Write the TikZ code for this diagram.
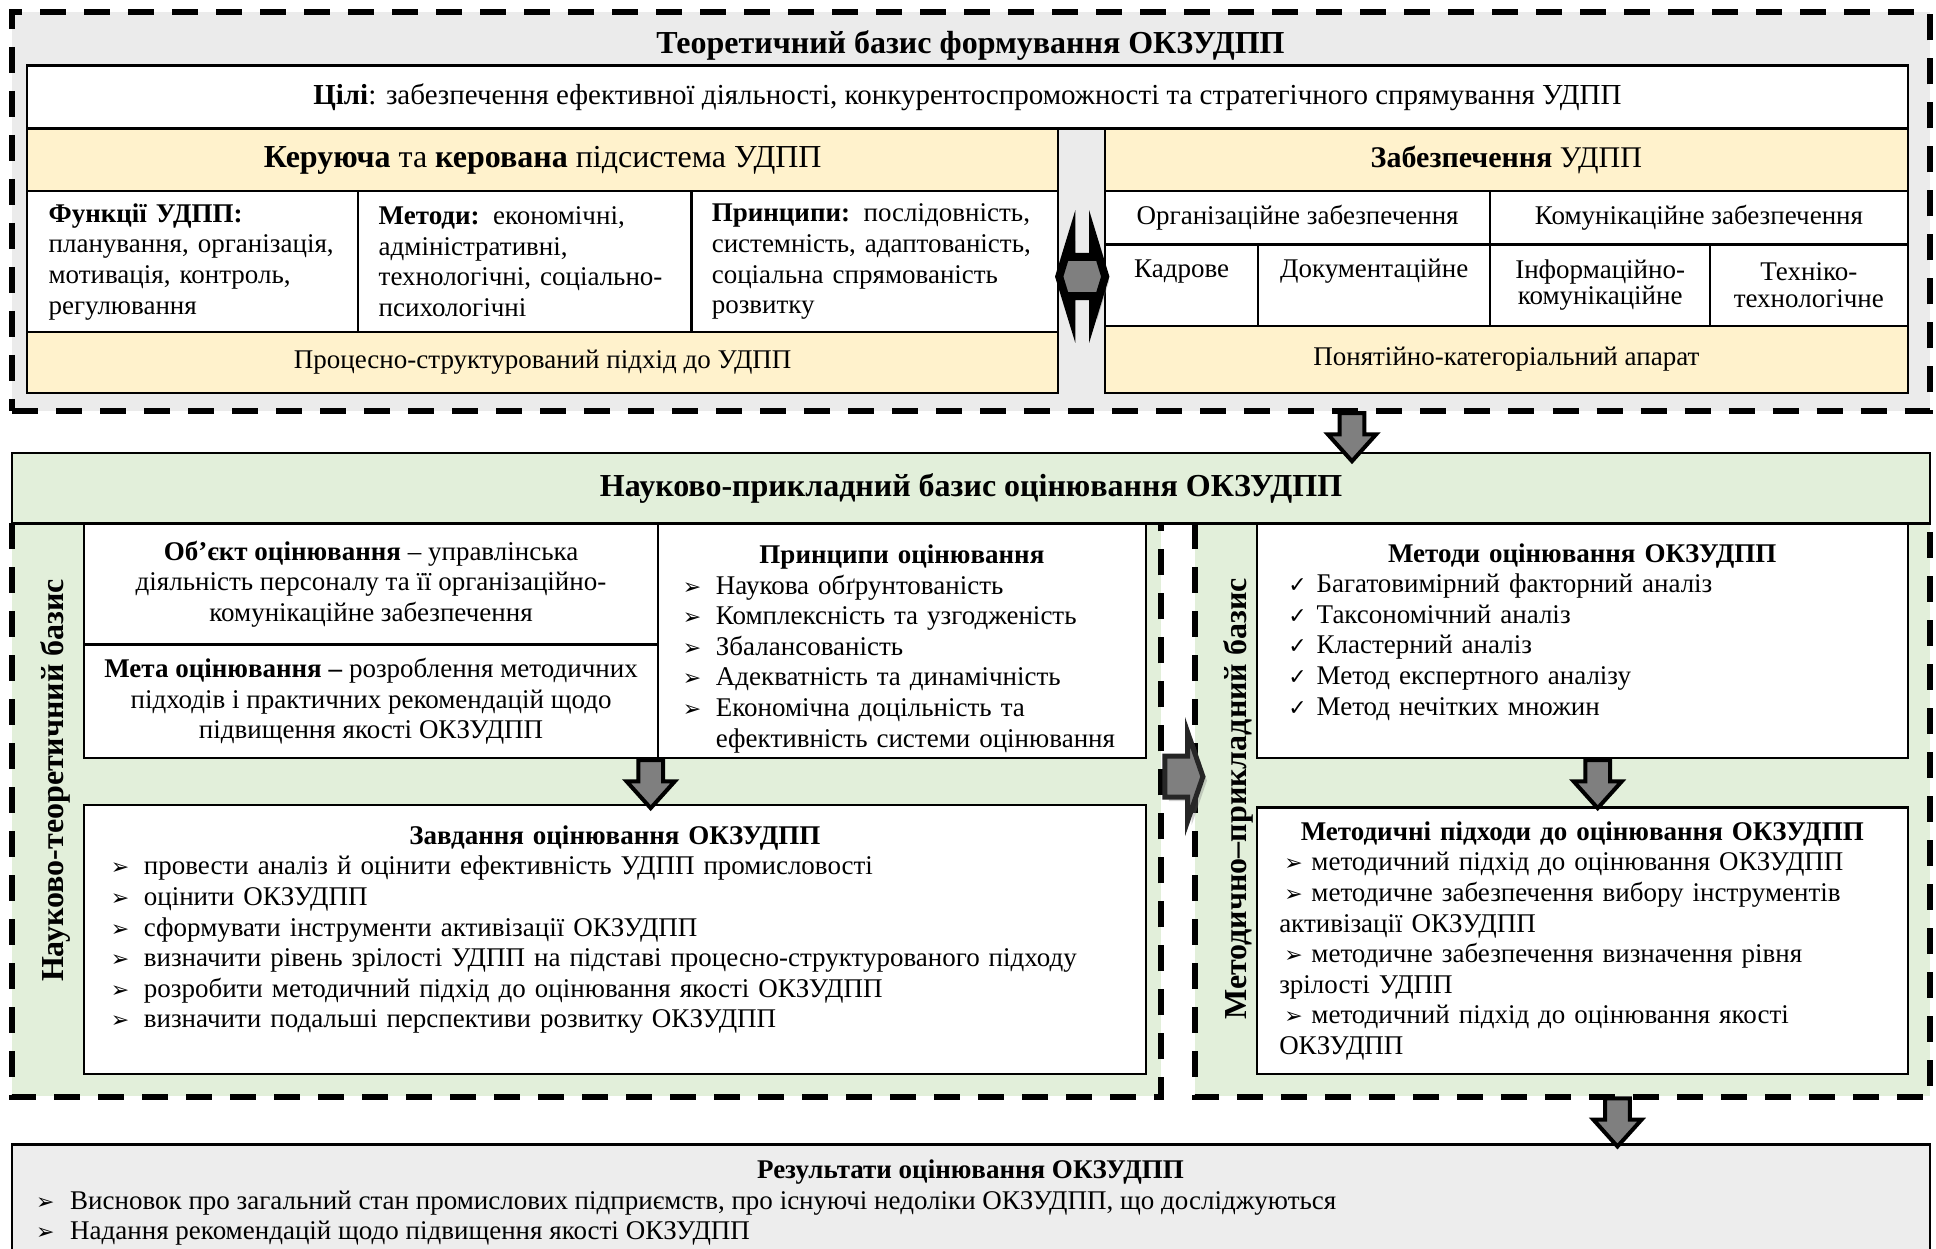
\documentclass[tikz,border=0pt]{standalone}
\usepackage{fontspec}
\setmainfont{Liberation Serif}
\newfontfamily\symfont{DejaVu Sans}
\usetikzlibrary{shapes.arrows}
\usetikzlibrary{shadows}

\definecolor{framegray}{HTML}{EBEBEB}
\definecolor{cellyellow}{HTML}{FFF2CC}
\definecolor{basegreen}{HTML}{E2EFDA}
\definecolor{resultgray}{HTML}{EDEDED}
\definecolor{arrowgray}{HTML}{7F7F7F}

\newcommand{\bodyfont}{\fontsize{13.5}{15.3}\selectfont}
\newcommand{\titlefont}{\fontsize{16}{18}\selectfont\bfseries}
\newcommand{\arrbul}{{\symfont\fontsize{11}{11}\selectfont ➢}}
\newcommand{\chkbul}{{\symfont\fontsize{11}{11}\selectfont ✓}}
\newcommand{\hitem}[1]{\par\hangindent=16.5pt\hangafter=1\noindent\makebox[16.5pt][l]{\arrbul}#1}
\newcommand{\litem}[1]{\par\noindent\hspace*{2.5pt}\makebox[13.6pt][l]{\arrbul}#1}
\newcommand{\citem}[1]{\par\noindent\makebox[14.2pt][l]{\chkbul}#1}
\newcommand{\bottomgap}[1]{\par\kern#1\hrule height0pt}

\begin{document}
\begin{tikzpicture}[x=0.6173pt, y=-0.6173pt,
    span/.style args={#1/#2/#3/#4}{at={({(#1+#3)/2},{(#2+#4)/2})},
        minimum width={(#3-#1)*0.6173pt}, minimum height={(#4-#2)*0.6173pt}},
    cell/.style={draw, line width=1.1pt, inner sep=0pt, fill=white, font=\bodyfont},
    ycell/.style={cell, fill=cellyellow},
    dashline/.style={line width=3pt, dash pattern=on 13pt off 9pt},
    vlabel/.style={rotate=90, font=\fontsize{16}{18}\selectfont\bfseries},
    downarrow/.style={single arrow, draw, line width=2pt, fill=arrowgray,
        shape border rotate=270, single arrow tip angle=84,
        single arrow head extend=5.85pt, inner sep=5.2pt, minimum height=24pt},
    sidearrow/.style={single arrow, draw=black!85, line width=2.5pt, fill=arrowgray,
        single arrow tip angle=142, single arrow head extend=12pt,
        inner xsep=0.5pt, inner ysep=9pt, minimum height=19pt,
        drop shadow={opacity=0.35, shadow xshift=2pt, shadow yshift=-2pt}},
    linkarrow/.style={double arrow, draw, line width=4pt, fill=arrowgray,
        double arrow tip angle=146, double arrow head extend=10pt,
        inner xsep=0.5pt, inner ysep=7.8pt, minimum height=23pt,
        drop shadow={opacity=0.35, shadow xshift=2pt, shadow yshift=-2pt}}]
    \useasboundingbox[fill=white] (0,0) rectangle (1568,1011.3);

    \node[draw, dashline, fill=framegray, inner sep=0pt, span=10/10/1563/333] (theory) {};
    \node[font=\titlefont] (theorytitle) at (786,37) {Теоретичний базис формування ОКЗУДПП};
    \node[cell, span=22/53/1545/104, font=\fontsize{14.5}{16}\selectfont] (goals) {\textbf{Цілі}: забезпечення ефективної діяльності, конкурентоспроможності та стратегічного спрямування УДПП};

    \node[ycell, span=22/104/857/155, font=\fontsize{16}{18}\selectfont] (ctrlhead) {\textbf{Керуюча} та \textbf{керована} підсистема УДПП};
    \node[cell, span=22/155/290/269, text width=144pt, align=left] (functions) {\textbf{Функції УДПП:}\\планування, організація,\\мотивація, контроль,\\регулювання\\[-5pt]};
    \node[cell, span=290/155/560/269, text width=146pt, align=left] (methods) {\textbf{Методи:} економічні,\\адміністративні,\\технологічні, соціально-\\психологічні\\[-5pt]};
    \node[cell, span=560/155/857/269, text width=163pt, align=left] (principles) {\textbf{Принципи:} послідовність,\\системність, адаптованість,\\соціальна спрямованість\\розвитку\\[-5pt]};
    \node[ycell, span=22/269/857/318] (process) {Процесно-структурований підхід до УДПП};

    \node[ycell, span=895/104/1545/155, font=\fontsize{15}{17}\selectfont] (supphead) {\textbf{Забезпечення} УДПП};
    \node[cell, span=895/155/1207/198] (org) {Організаційне забезпечення};
    \node[cell, span=1207/155/1545/198] (comm) {Комунікаційне забезпечення};
    \node[cell, span=895/198/1019/264, align=center] (staff) {Кадрове\\[-3pt]\strut};
    \node[cell, span=1019/198/1207/264, align=center] (docs) {Документаційне\\[-3pt]\strut};
    \node[cell, span=1207/198/1385/264, align=center] (infocomm) {Інформаційно-\\[-2pt]комунікаційне};
    \node[cell, span=1385/198/1545/264, align=center] (techno) {Техніко-\\[-2pt]технологічне};
    \node[ycell, span=895/264/1545/318] (concept) {Понятійно-категоріальний апарат};

    \node[linkarrow] (link) at (876.5,224) {};

    \node[fill=basegreen, inner sep=0pt, span=10/424/940/888] (theobase) {};
    \node[fill=basegreen, inner sep=0pt, span=968/424/1563/888] (methbase) {};
    \draw[dashline] (theobase.north west) -- (theobase.south west) -- (theobase.south east) -- (theobase.north east);
    \draw[dashline] (methbase.north west) -- (methbase.south west) -- (methbase.south east) -- (methbase.north east);
    \node[cell, fill=basegreen, span=10/367/1563/424, font=\titlefont] (applied) {Науково-прикладний базис оцінювання ОКЗУДПП\\[-4pt]};

    \node[vlabel] (theolabel) at (45,632) {Науково-теоретичний базис};
    \node[vlabel] (methlabel) at (1003,647) {Методично–прикладний базис};

    \node[cell, span=68/424/533/522, align=center] (object) {\textbf{Об’єкт оцінювання} – управлінська\\діяльність персоналу та її організаційно-\\комунікаційне забезпечення};
    \node[cell, span=68/522/533/614, align=center] (aim) {\textbf{Мета оцінювання –} розроблення методичних\\підходів і практичних рекомендацій щодо\\підвищення якості ОКЗУДПП};
    \node[cell, span=533/424/928/614, text width=219pt] (evalprinc) {{\centering\textbf{Принципи оцінювання}\par}
        \hitem{Наукова обґрунтованість}
        \hitem{Комплексність та узгодженість}
        \hitem{Збалансованість}
        \hitem{Адекватність та динамічність}
        \hitem{Економічна доцільність та\newline ефективність системи оцінювання}\bottomgap{-8pt}};
    \node[cell, span=68/652/928/870, text width=504pt] (tasks) {{\centering\textbf{Завдання оцінювання ОКЗУДПП}\par}
        \hitem{провести аналіз й оцінити ефективність УДПП промисловості}
        \hitem{оцінити ОКЗУДПП}
        \hitem{сформувати інструменти активізації ОКЗУДПП}
        \hitem{визначити рівень зрілості УДПП на підставі процесно-структурованого підходу}
        \hitem{розробити методичний підхід до оцінювання якості ОКЗУДПП}
        \hitem{визначити подальші перспективи розвитку ОКЗУДПП}\bottomgap{10pt}};

    \node[cell, span=1018/424/1545/614, text width=294pt] (evalmeth) {{\centering\textbf{Методи оцінювання ОКЗУДПП}\par}
        \citem{Багатовимірний факторний аналіз}
        \citem{Таксономічний аналіз}
        \citem{Кластерний аналіз}
        \citem{Метод експертного аналізу}
        \citem{Метод нечітких множин}\bottomgap{9pt}};
    \node[cell, span=1018/654/1545/870, text width=303pt] (approach) {{\centering\textbf{Методичні підходи до оцінювання ОКЗУДПП}\par}
        \litem{методичний підхід до оцінювання ОКЗУДПП}
        \litem{методичне забезпечення вибору інструментів\newline активізації ОКЗУДПП}
        \litem{методичне забезпечення визначення рівня\newline зрілості УДПП}
        \litem{методичний підхід до оцінювання якості\newline ОКЗУДПП}\par};

    \node[sidearrow] (toapproach) at (956,629) {};

    \node[cell, fill=resultgray, span=10/927/1563/1040] (results) {};
    \node[font=\bodyfont\bfseries] (restitle) at (786,949) {Результати оцінювання ОКЗУДПП};
    \node[anchor=north west, inner sep=0pt, font=\bodyfont, align=left] (resitems) at (29,964) {\makebox[17pt][l]{\arrbul}Висновок про загальний стан промислових підприємств, про існуючі недоліки ОКЗУДПП, що досліджуються\\\makebox[17pt][l]{\arrbul}Надання рекомендацій щодо підвищення якості ОКЗУДПП};

    \foreach \x/\y/\n in {1095/333/down1, 527/614/down2, 1294/614/down3, 1310/888/down4}
        \node[downarrow, anchor=tail] (\n) at (\x,\y) {};
\end{tikzpicture}
\end{document}
